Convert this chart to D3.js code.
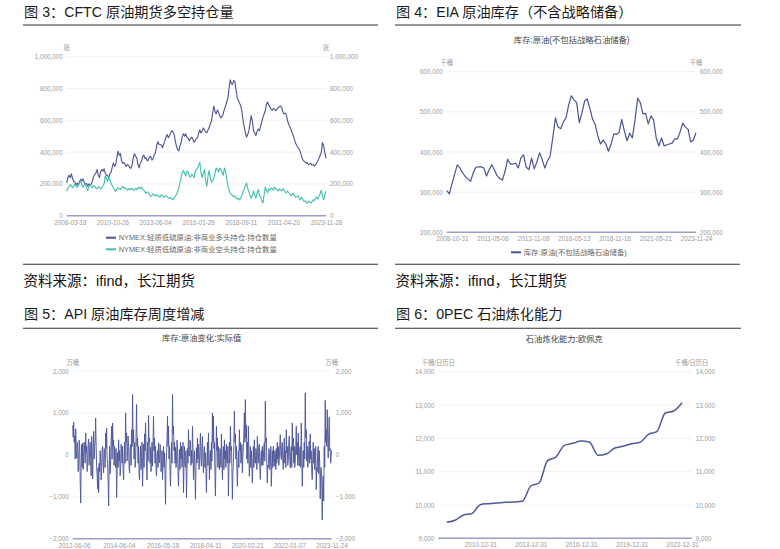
<!DOCTYPE html>
<html><head><meta charset="utf-8">
<script src="https://cdn.jsdelivr.net/npm/d3@7"></script>
<style>
body{margin:0;background:#fff;}
svg{display:block;}
</style></head><body>
<svg id="c" width="780" height="549"></svg>
<script>
// ---------------- DATA ----------------
// Fig 3: CFTC NYMEX light sweet crude, non-commercial long / short (thousand contracts)
const cftcStart = "2008-01-05", cftcEnd = "2023-11-28";
const cftcTicks = ["2008-03-18","2010-10-26","2013-06-04","2016-01-26","2018-09-11","2021-04-20","2023-11-28"];
const cftcLong = [206,240,255,238,263,235,215,212,194,205,190,215,230,218,232,210,200,202,185,200,196,198,217,245,259,268,290,255,240,275,290,280,295,268,255,252,240,265,272,305,
332,310,322,370,406,380,390,345,330,335,322,310,322,318,302,298,320,365,390,375,364,320,301,330,343,370,382,360,364,345,352,370,372,350,360,385,395,440,466,450,
448,445,427,450,469,495,510,490,502,520,535,528,510,470,435,415,408,440,460,500,515,500,515,492,488,470,485,495,480,462,472,485,490,520,540,520,535,552,540,525,
522,540,554,580,596,650,690,655,640,665,650,628,615,625,640,670,690,715,740,800,855,830,827,850,845,790,740,725,708,690,655,600,560,520,495,510,535,585,630,590,
535,520,505,530,545,535,560,590,620,640,660,700,715,695,685,670,662,675,669,660,669,680,685,690,682,655,640,645,635,600,575,560,545,520,505,478,455,440,430,418,
402,375,355,345,338,330,335,320,326,330,318,322,312,320,330,345,362,380,400,460,440,395,360];
const cftcShort = [154,175,183,195,188,175,185,198,184,178,195,205,220,190,180,195,200,175,158,180,196,185,175,190,185,172,170,182,180,168,176,190,200,250,235,215,246,225,202,190,
175,160,154,168,175,170,165,178,185,172,178,168,162,170,163,172,170,160,165,172,163,175,180,170,180,168,160,150,140,150,145,130,122,128,137,130,124,132,126,118,
120,132,128,115,120,125,118,112,108,115,105,100,110,122,135,150,170,210,245,270,285,265,250,280,275,250,242,260,255,240,275,290,300,320,335,270,240,270,290,220,
185,250,285,240,210,220,238,270,300,290,275,300,290,270,255,300,280,230,190,160,140,135,128,118,124,110,105,110,100,112,125,150,170,190,205,170,150,125,110,130,
154,130,112,140,164,130,115,95,80,130,180,160,145,170,160,175,170,160,180,170,165,155,168,160,157,170,162,150,143,155,146,135,126,135,140,128,115,120,125,110,
100,115,106,90,95,85,78,92,85,80,86,100,95,110,118,105,120,140,160,125,100,130,155];
const cftcLegend = ["NYMEX:轻质低硫原油:非商业多头持仓:持仓数量","NYMEX:轻质低硫原油:非商业空头持仓:持仓数量"];

// Fig 4: EIA crude stocks excl. SPR (thousand barrels / 1000)
const eiaStart = "2008-07-08", eiaEnd = "2023-11-24";
const eiaTicks = ["2008-10-31","2011-05-06","2013-11-08","2016-05-13","2018-11-16","2021-05-21","2023-11-24"];
const eiaStock = [304,296,321,345,368,360,348,339,333,327,348,362,363,363,360,340,356,368,355,341,
334,330,352,382,370,370,372,360,386,393,362,356,385,358,375,398,381,360,378,390,
435,485,462,458,475,485,518,540,530,523,473,498,527,532,508,482,468,440,420,430,
420,402,420,445,444,448,481,452,428,447,435,480,534,523,495,496,470,490,480,435,
415,435,415,418,420,422,433,432,450,472,462,457,425,430,448];

// Fig 5: API crude stock weekly change (10k barrels)
const apiStart = "2012-05-16", apiEnd = "2023-11-24";
const apiTicks = ["2012-06-06","2014-06-04","2016-05-18","2018-04-11","2020-02-21","2022-01-07","2023-11-24"];
const apiChange = [
700,420,780,300,450,-100,620,100,-80,300,150,-400,-200,350,200,-600,-1150,-200,250,-300,
280,-350,-30,300,100,-200,520,50,200,-400,-150,250,380,-250,120,300,-110,-500,440,100,
-580,100,560,-100,200,350,880,200,-300,-500,-820,-300,-900,-200,-400,100,-110,-600,-340,150,
200,-250,-430,150,100,-300,520,150,640,-100,-200,-650,-1220,-300,200,-450,-190,300,680,-100,
760,200,350,-250,200,-100,-300,150,-1020,-400,50,-300,360,-150,100,-500,-350,250,150,-200,
200,-350,-590,-100,300,-200,1000,300,520,-150,100,450,200,-300,-430,100,250,-250,600,200,
1440,300,600,-100,300,-300,-190,450,1200,200,400,-200,200,-450,-590,-100,210,-350,-100,300,
-750,-200,250,-300,500,100,760,150,-270,-600,300,-150,940,300,400,-200,180,-400,-100,300,
-270,300,920,100,400,-200,200,-350,-510,0,100,-300,290,-100,-190,250,200,-400,-300,100,
-590,-150,200,-300,50,-500,-1180,-300,50,400,920,200,680,-100,200,-400,-750,-200,300,-200,
1440,500,680,100,300,-200,180,-300,-190,350,200,-400,-750,-200,130,-350,300,-100,200,-300,
-100,300,-900,-300,200,-250,-300,100,-1020,-400,150,-200,600,0,-30,350,300,-250,100,-200,
680,150,-590,-100,100,-400,-1060,-300,170,-200,400,-100,250,-350,-200,200,520,-100,-270,200,
440,-150,-430,100,200,-300,50,-400,-900,-200,300,-250,520,50,-590,-100,100,-350,300,-150,
1000,300,920,150,300,-400,-980,-200,680,100,400,-300,200,-250,-350,150,100,-300,500,-50,
-590,-100,200,-350,360,-100,100,-300,250,-150,-200,200,-980,-350,300,-200,680,100,200,-300,
-1060,-400,-200,250,1040,300,500,-100,200,-350,-750,-250,100,-300,600,100,300,-200,-100,250,
-430,-50,200,500,1000,300,1320,400,700,-100,300,-200,680,100,-510,-150,200,-300,100,-250,
-670,-200,200,-300,360,-100,-200,150,100,-350,440,50,-200,200,250,-300,-590,-100,100,-250,
200,-250,-100,200,300,-150,1280,300,400,-200,-670,-250,-300,150,100,-350,-190,200,-750,-300,
100,-300,200,-150,-270,100,50,-350,150,-200,300,-100,200,-250,-100,250,480,0,-110,200,
300,-150,-350,100,400,-200,100,-300,600,50,200,-250,-100,300,450,-100,-310,50,200,-300,
760,100,400,-200,200,-300,-150,250,680,0,300,-250,520,-50,-270,150,200,-300,760,100,
-750,-250,100,-300,300,-100,1480,400,600,-150,200,-300,-190,150,330,-200,500,-100,100,-400,
-590,-100,300,-200,150,-350,-200,200,-830,-300,-400,100,200,-450,100,-200,-1050,-350,-300,-600,
-1550,-700,-500,-1100,200,-300,1300,300,600,200,1080,400,-70,500,900,100,150,-200,0,100];

// Fig 6: OPEC refining capacity (thousand b/cd)
const opecDomain = ["2008-07-01","2023-07-28"];
const opecTicks = ["2010-12-31","2013-12-31","2016-12-31","2019-12-31","2022-12-31"];
const opecDates = ["2008-12-31","2009-06-30","2009-12-31","2010-06-30","2010-12-31","2011-06-30","2011-12-31",
"2012-06-30","2012-12-31","2013-06-30","2013-12-31","2014-06-30","2014-12-31","2015-06-30","2015-12-31",
"2016-06-30","2016-12-31","2017-06-30","2017-12-31","2018-06-30","2018-12-31","2019-06-30","2019-12-31",
"2020-06-30","2020-12-31","2021-06-30","2021-12-31","2022-06-30","2022-12-31"];
const opecCapacity = [9480,9540,9700,9740,10010,10040,10060,10080,10090,10110,10570,10660,11330,11440,11790,
11850,11920,11880,11490,11530,11710,11760,11840,11880,12120,12200,12760,12820,13070];

// ---------------- DRAW ----------------
const FONT = '"Liberation Sans","Noto Sans CJK SC",sans-serif';
const svg = d3.select("#c").style("font-family", FONT);
const parse = d3.timeParse("%Y-%m-%d");
const fmtDate = d3.timeFormat("%Y-%m-%d");
const BLUE = "#4a5396", TEAL = "#3dbfae";

function evenDates(s, e, n) {
  const a = parse(s).getTime(), b = parse(e).getTime();
  return d3.range(n).map(i => new Date(a + (b - a) * i / (n - 1)));
}

function header(x0, x1, titleBase, ruleY, text) {
  svg.append("text").attr("x", x0 + 1).attr("y", titleBase).attr("font-size", 14.2)
    .attr("fill", "#1a1a1a").text(text);
  svg.append("line").attr("x1", x0).attr("x2", x1).attr("y1", ruleY).attr("y2", ruleY)
    .attr("stroke", "#333").attr("stroke-width", 1.1);
}
function footer(x0, x1, ruleY, base) {
  svg.append("line").attr("x1", x0).attr("x2", x1).attr("y1", ruleY).attr("y2", ruleY)
    .attr("stroke", "#333").attr("stroke-width", 1.1);
  svg.append("text").attr("x", x0 + 0.5).attr("y", base).attr("font-size", 14.5)
    .attr("fill", "#111").text("资料来源：ifind，长江期货");
}
function subtitle(cx, base, text) {
  svg.append("text").attr("x", cx).attr("y", base).attr("text-anchor", "middle")
    .attr("font-size", 8.3).attr("fill", "#444").text(text);
}

function panel(c) {
  const x = d3.scaleTime().domain(c.xDomain.map(parse)).range([c.left, c.right]);
  const y = d3.scaleLinear().domain(c.yDomain).range([c.bottom, c.top]);
  const g = svg.append("g");
  g.append("g").selectAll("line").data(c.yTicks.slice(1)).join("line")
    .attr("x1", c.left).attr("x2", c.right)
    .attr("y1", d => y(d)).attr("y2", d => y(d))
    .attr("stroke", "#eeeeee").attr("stroke-width", 0.8);
  const styleAxis = s => {
    s.select(".domain").remove();
    s.attr("font-family", FONT).attr("font-size", 6.3);
    s.selectAll("text").attr("fill", "#9a9a9a");
  };
  g.append("g").attr("transform", `translate(${c.left},0)`)
    .call(d3.axisLeft(y).tickValues(c.yTicks).tickSize(0).tickPadding(4).tickFormat(c.yFmt))
    .call(styleAxis);
  g.append("g").attr("transform", `translate(${c.right},0)`)
    .call(d3.axisRight(y).tickValues(c.yTicks).tickSize(0).tickPadding(4).tickFormat(c.yFmt))
    .call(styleAxis);
  g.append("g").attr("transform", `translate(0,${c.bottom})`)
    .call(d3.axisBottom(x).tickValues(c.xTicks.map(parse)).tickSize(0).tickPadding(4.7).tickFormat(fmtDate))
    .call(styleAxis);
  [c.left, c.right].forEach(px => {
    g.append("text").attr("x", px).attr("y", y(c.yDomain[1]) - 8.5).attr("dy", "0.35em")
      .attr("text-anchor", "middle").attr("font-size", 6.3).attr("fill", "#9a9a9a").text(c.unit);
  });
  g.append("line").attr("x1", c.left).attr("x2", c.right).attr("y1", c.bottom).attr("y2", c.bottom)
    .attr("stroke", "#9c9ec6").attr("stroke-width", 1.6);
  c.series.forEach(s => {
    const pts = s.dates.map((d, i) => [d, s.values[i]]);
    const line = d3.line().x(p => x(p[0])).y(p => y(p[1])).curve(s.curve || d3.curveLinear);
    g.append("path").attr("d", line(pts)).attr("fill", "none")
      .attr("stroke", s.color).attr("stroke-width", s.width || 1.1).attr("stroke-linejoin", "round");
  });
  return {x, y};
}
function legendItem(x, yc, color, text) {
  svg.append("line").attr("x1", x).attr("x2", x + 10).attr("y1", yc).attr("y2", yc)
    .attr("stroke", color).attr("stroke-width", 2);
  svg.append("text").attr("x", x + 12.7).attr("y", yc).attr("dy", "0.35em")
    .attr("font-size", 7.4).attr("fill", "#666").text(text);
}

const kFmt = d => d3.format(",")(d * 1000);

// ---- Panel 1 ----
header(23, 378, 17.4, 25, "图 3：CFTC 原油期货多空持仓量");
panel({
  left: 66.7, right: 326, top: 56.7, bottom: 215.7,
  xDomain: [cftcStart, cftcEnd], xTicks: cftcTicks,
  yDomain: [0, 1000], yTicks: [0, 200, 400, 600, 800, 1000], yFmt: kFmt, unit: "张",
  series: [
    {dates: evenDates(cftcStart, cftcEnd, cftcLong.length), values: cftcLong, color: BLUE, width: 1.1},
    {dates: evenDates(cftcStart, cftcEnd, cftcShort.length), values: cftcShort, color: TEAL, width: 1.1}
  ]
});
legendItem(106, 237.7, BLUE, cftcLegend[0]);
legendItem(106, 249.3, TEAL, cftcLegend[1]);
footer(23, 378, 264.3, 285.5);

// ---- Panel 2 ----
header(395, 741, 17.4, 25, "图 4：EIA 原油库存（不含战略储备）");
subtitle(571.7, 42.5, "库存:原油(不包括战略石油储备)");
panel({
  left: 446.7, right: 696, top: 71.7, bottom: 232.3,
  xDomain: [eiaStart, eiaEnd], xTicks: eiaTicks,
  yDomain: [200, 600], yTicks: [200, 300, 400, 500, 600], yFmt: kFmt, unit: "千桶",
  series: [{dates: evenDates(eiaStart, eiaEnd, eiaStock.length), values: eiaStock, color: BLUE, width: 1.2}]
});
legendItem(511, 252.3, BLUE, "库存:原油(不包括战略石油储备)");
footer(395, 740, 264.3, 285.5);

// ---- Panel 3 ----
header(23, 378, 319.4, 328.3, "图 5：API 原油库存周度增减");
subtitle(201.7, 340.5, "库存:原油变化:实际值");
panel({
  left: 72.7, right: 331.7, top: 371, bottom: 538.7,
  xDomain: [apiStart, apiEnd], xTicks: apiTicks,
  yDomain: [-2000, 2000], yTicks: [-2000, -1000, 0, 1000, 2000], yFmt: d3.format(","), unit: "万桶",
  series: [{dates: evenDates(apiStart, apiEnd, apiChange.length), values: apiChange, color: BLUE, width: 0.9}]
});

// ---- Panel 4 ----
header(395, 741, 319.4, 328.3, "图 6：0PEC 石油炼化能力");
subtitle(564.3, 341.5, "石油炼化能力:欧佩克");
panel({
  left: 438.3, right: 691.7, top: 371.7, bottom: 538.3,
  xDomain: opecDomain, xTicks: opecTicks,
  yDomain: [9000, 14000], yTicks: [9000, 10000, 11000, 12000, 13000, 14000], yFmt: d3.format(","), unit: "千桶/日历日",
  series: [{dates: opecDates.map(parse), values: opecCapacity, color: "#4f5898", width: 1.5, curve: d3.curveMonotoneX}]
});
</script>
</body></html>
